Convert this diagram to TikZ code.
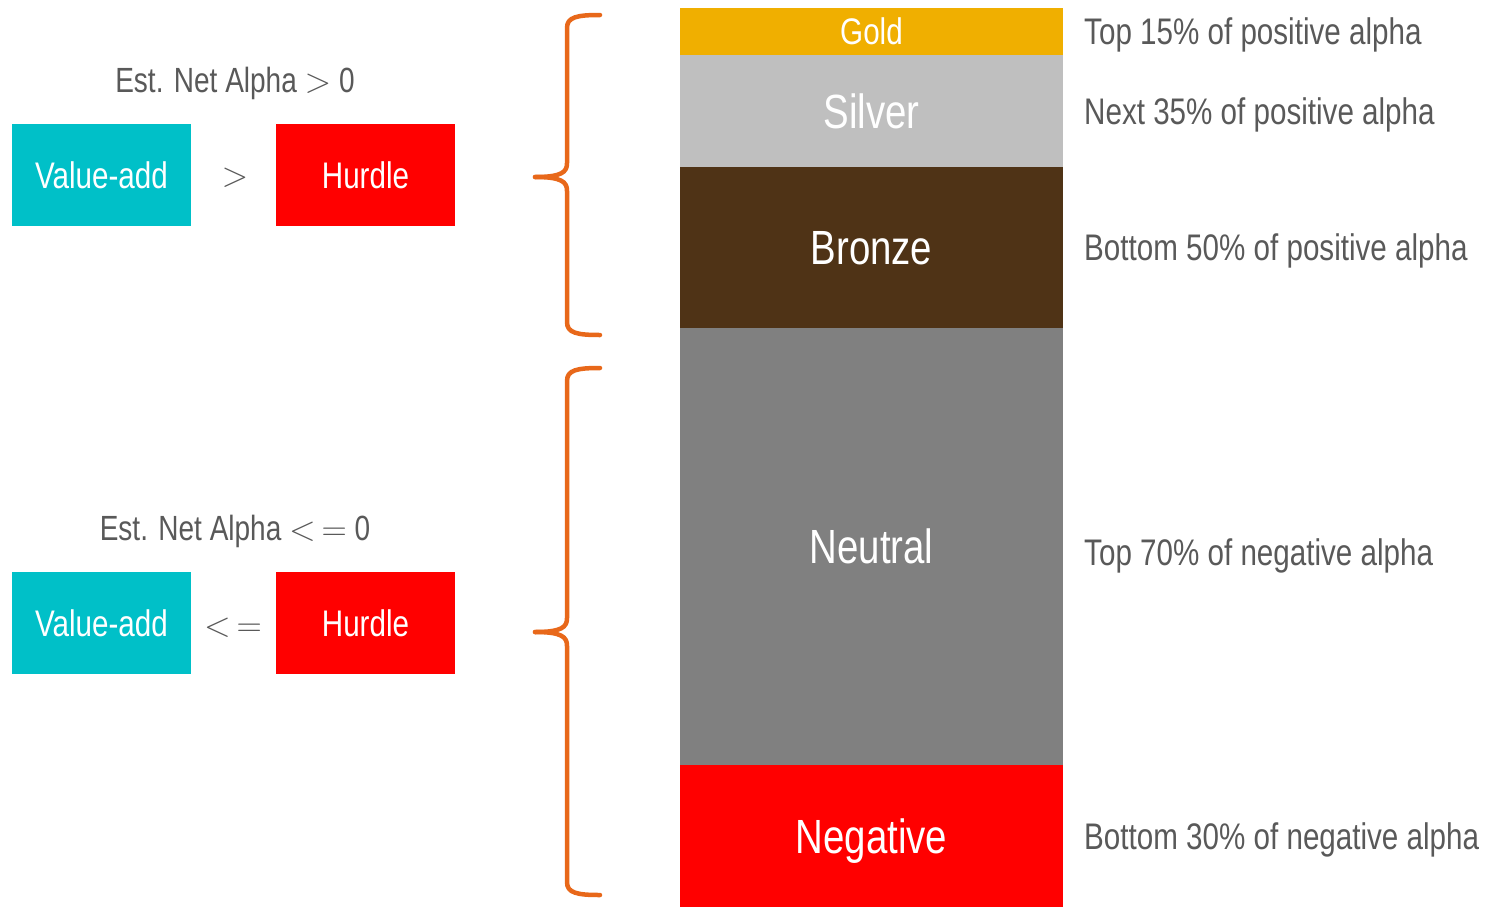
\RequirePackage{fix-cm}
\documentclass[tikz,border=0pt]{standalone}
\usepackage{fontspec}
\setmainfont{Liberation Sans}[FakeStretch=0.8]
\usepackage{tikz}
\usepackage{xcolor}
\usetikzlibrary{positioning}

\definecolor{goldc}{HTML}{F0AF00}
\definecolor{silverc}{HTML}{BFBFBF}
\definecolor{bronzec}{HTML}{4F3316}
\definecolor{neutralc}{HTML}{808080}
\definecolor{negc}{HTML}{FF0000}
\definecolor{vaddc}{HTML}{00C0C8}
\definecolor{hurdc}{HTML}{FF0000}
\definecolor{bracec}{HTML}{E8681A}
\definecolor{txtc}{HTML}{595959}

\tikzset{
  tier/.style={minimum width=383pt, inner sep=0pt, outer sep=0pt, text=white, text depth=0pt},
  bigtxt/.style={font=\fontsize{48}{52}\selectfont},
  cell/.style={minimum width=179pt, minimum height=102pt, inner sep=0pt, text=white,
    text depth=0pt, font=\fontsize{37}{40}\selectfont},
  note/.style={inner sep=0pt, text=txtc, anchor=west, text depth=0pt,
    font=\fontsize{37}{40}\selectfont},
  head/.style={text=txtc, text depth=0pt, font=\fontsize{35}{38}\selectfont},
  curly/.style={draw=bracec, line width=4.5pt, line cap=round, line join=round}
}

\begin{document}
\begin{tikzpicture}[x=1pt,y=-1pt]
	\useasboundingbox (0,0) rectangle (1488,908);

	% Tiers
	\node[tier, fill=goldc, minimum height=47pt, anchor=north west,
	  font=\fontsize{37}{40}\selectfont] (gold) at (680,8) {Gold};
	\node[tier, bigtxt, fill=silverc, minimum height=112pt, below=0pt of gold] (silver) {Silver};
	\node[tier, bigtxt, fill=bronzec, minimum height=161pt, below=0pt of silver] (bronze) {Bronze};
	\node[tier, bigtxt, fill=neutralc, minimum height=437pt, below=0pt of bronze] (neutral) {Neutral};
	\node[tier, bigtxt, fill=negc, minimum height=142pt, below=0pt of neutral] (negative) {Negative};

	% Notes
	\node[note, right=21pt of gold] (goldnote) {Top 15\% of positive alpha};
	\node[note, right=21pt of silver] (silvernote) {Next 35\% of positive alpha};
	\node[note, right=21pt of bronze] (bronzenote) {Bottom 50\% of positive alpha};
	\node[note, right=21pt of neutral, yshift=-6pt] (neutralnote) {Top 70\% of negative alpha};
	\node[note, right=21pt of negative] (negnote) {Bottom 30\% of negative alpha};

	% Positive alpha
	\node[head] (poshead) at (235,80) {Est. Net Alpha $>$ 0};
	\node[cell, fill=vaddc] (posvadd) at (101.5,175) {Value-add};
	\node[cell, fill=hurdc] (poshurd) at (365.5,175) {Hurdle};
	\node[head] (posrel) at (235,177) {$>$};

	% Negative alpha
	\node[head] (neghead) at (235,528) {Est. Net Alpha $<\,=$ 0};
	\node[cell, fill=vaddc] (negvadd) at (101.5,623) {Value-add};
	\node[cell, fill=hurdc] (neghurd) at (365.5,623) {Hurdle};
	\node[head] (negrel) at (233,627) {$<\,=$};

	% Braces
	\draw[curly] (600,15) .. controls (577,15) and (567,17) .. (567,28) -- (567,163)
	  .. controls (567,172) and (562,177) .. (535,177);
	\draw[curly] (535,177) .. controls (562,177) and (567,182) .. (567,191) -- (567,322)
	  .. controls (567,333) and (577,335) .. (600,335);

	\draw[curly] (600,368) .. controls (577,368) and (567,370) .. (567,381) -- (567,618)
	  .. controls (567,627) and (562,632) .. (535,632);
	\draw[curly] (535,632) .. controls (562,632) and (567,637) .. (567,646) -- (567,882)
	  .. controls (567,893) and (577,895) .. (600,895);
\end{tikzpicture}
\end{document}
